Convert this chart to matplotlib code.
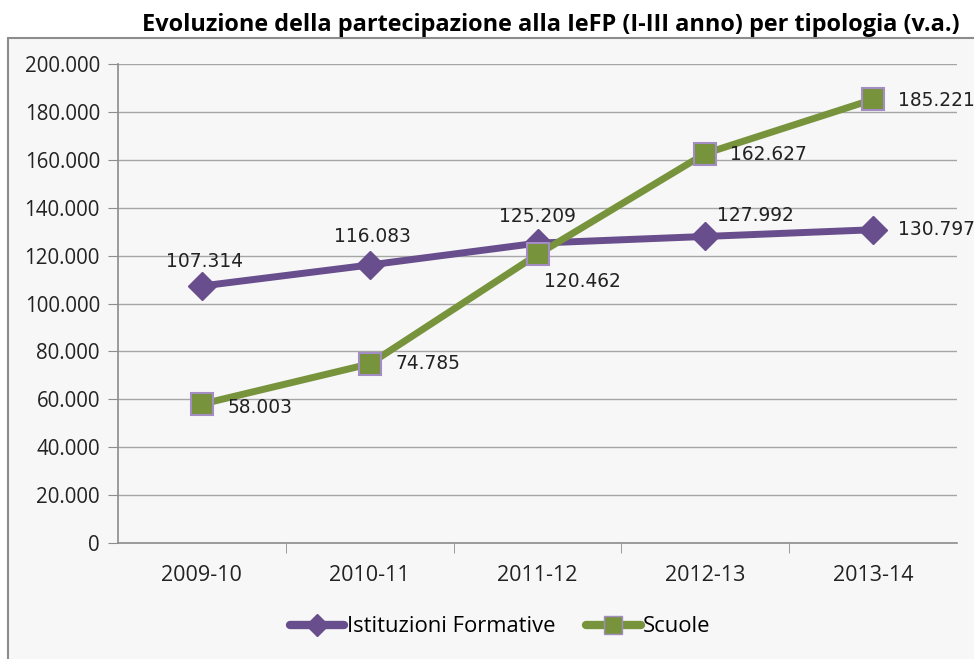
import matplotlib
matplotlib.use('Agg')
import matplotlib.pyplot as plt
from matplotlib.patches import Rectangle
from matplotlib.lines import Line2D


# chart data
anni = ['2009-10', '2010-11', '2011-12', '2012-13', '2013-14']
istituzioni = [107314, 116083, 125209, 127992, 130797]
scuole = [58003, 74785, 120462, 162627, 185221]
yticks = list(range(0, 200001, 20000))

# label offsets in pixels (dx, dy, ha)
off_ist = [(3, 24, 'center'), (3, 28, 'center'), (0, 27, 'center'), (50, 21, 'center'), (25, 0, 'left')]
off_sc = [(26, -3, 'left'), (26, 0, 'left'), (7, -27, 'left'), (25, -1, 'left'), (25, -1, 'left')]

viola = '#684e8c'
verde = '#77933c'
bordo_q = '#a48cc4'
tick_font = 'Open Sans'


def fmt(v):
    return f"{v:,}".replace(',', '.')


fig = plt.figure(figsize=(9.74, 6.59), dpi=100)
fig.patch.set_facecolor('white')

# chart area frame
W, H = 974, 659
frame = Rectangle((8 / W, 1 - 668 / H), 980 / W, 630 / H, transform=fig.transFigure,
                  facecolor='#f7f7f7', edgecolor='#8c8c8c', lw=1.5, zorder=0)
fig.add_artist(frame)

fig.text(551 / W, 1 - 25 / H, 'Evoluzione della partecipazione alla IeFP (I-III anno) per tipologia (v.a.)',
         ha='center', va='center', fontsize=16.9, fontweight='bold', family=tick_font)

ax = fig.add_axes([118 / W, 1 - 543 / H, 839 / W, 479 / H])
ax.set_facecolor('none')

x = list(range(len(anni)))
ax.plot(x, istituzioni, color=viola, lw=5, marker='D', ms=14.5, mfc=viola, mec=viola,
        label='Istituzioni Formative', zorder=3, solid_capstyle='round')
ax.plot(x, scuole, color=verde, lw=5, marker='s', ms=16, mfc=verde, mec=bordo_q, mew=1.5,
        label='Scuole', zorder=4, solid_capstyle='round')

for i, v in enumerate(istituzioni):
    dx, dy, ha = off_ist[i]
    ax.annotate(fmt(v), (x[i], v), xytext=(dx, dy), textcoords='offset pixels',
                ha=ha, va='center', fontsize=13.4, color='#222222', family='DejaVu Sans', zorder=5)
for i, v in enumerate(scuole):
    dx, dy, ha = off_sc[i]
    ax.annotate(fmt(v), (x[i], v), xytext=(dx, dy), textcoords='offset pixels',
                ha=ha, va='center', fontsize=13.4, color='#222222', family='DejaVu Sans', zorder=5)

ax.set_xlim(-0.5, len(anni) - 0.5)
ax.set_ylim(0, 200000)
ax.set_yticks(yticks)
ax.set_yticklabels([fmt(v) for v in yticks], family=tick_font, fontsize=14.8, color='#222222')
ax.set_xticks(x)
ax.set_xticklabels(anni, family=tick_font, fontsize=15.5, color='#222222')
ax.set_xticks([i + 0.5 for i in x[:-1]], minor=True)
ax.tick_params(axis='x', which='major', length=0, pad=16)
ax.tick_params(axis='x', which='minor', length=7, color='#8c8c8c', direction='out')
ax.tick_params(axis='y', length=7, color='#8c8c8c', pad=6)

ax.grid(axis='y', color='#a6a6a6', lw=1)
ax.set_axisbelow(True)
for s in ['top', 'right']:
    ax.spines[s].set_visible(False)
for s in ['left', 'bottom']:
    ax.spines[s].set_color('#8c8c8c')
    ax.spines[s].set_linewidth(1.2)

h1 = Line2D([], [], color=viola, lw=6, marker='D', ms=11, mfc=viola, mec=viola, solid_capstyle='round')
h2 = Line2D([], [], color=verde, lw=6, marker='s', ms=13, mfc=verde, mec=bordo_q, mew=1, solid_capstyle='round')
fig.legend([h1, h2], ['Istituzioni Formative', 'Scuole'], loc='center', bbox_to_anchor=(500 / W, 1 - 627 / H),
           ncol=2, frameon=False, handlelength=2.5, handletextpad=0.1, columnspacing=1.4,
           prop={'family': tick_font, 'size': 15.8})

fig.savefig('out.png', dpi=100)
